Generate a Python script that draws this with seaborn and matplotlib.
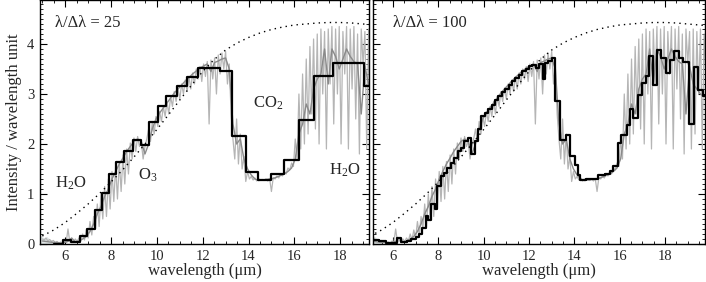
import numpy as np
import pandas as pd
import matplotlib
matplotlib.use("Agg")
import matplotlib.pyplot as plt
import seaborn as sns
from matplotlib.ticker import MultipleLocator

# dotted blackbody envelope
bb_wl = [5.0, 5.5, 6.0, 6.5, 7.0, 7.5, 8.0, 8.5, 9.0, 9.5, 10.0, 10.5, 11.0, 11.5, 12.0,
         12.5, 13.0, 13.5, 14.0, 14.5, 15.0, 15.5, 16.0, 16.5, 17.0, 17.5, 18.0, 18.5,
         19.0, 19.5, 20.0]
bb_val = [0.16, 0.28, 0.43, 0.61, 0.80, 1.01, 1.24, 1.48, 1.74, 2.01, 2.29, 2.58, 2.88,
          3.17, 3.45, 3.69, 3.88, 4.02, 4.13, 4.22, 4.29, 4.34, 4.38, 4.40, 4.42, 4.43,
          4.43, 4.42, 4.40, 4.38, 4.36]

# high resolution spectrum, sampled every 0.08 micron from 5.0
hires_start, hires_step = 5.0, 0.08
hires_light = [
    0.10, 0.08, 0.12, 0.06, 0.09, 0.05, 0.07, 0.03, 0.05, 0.02,
    0.04, 0.02, 0.06, 0.03, 0.30, 0.04, 0.08, 0.03, 0.10, 0.05,
    0.12, 0.06, 0.20, 0.08, 0.28, 0.12, 0.45, 0.18, 0.55, 0.30,
    0.80, 0.35, 1.00, 0.50, 1.15, 0.55, 1.30, 0.70, 1.45, 0.85,
    1.55, 0.90, 1.65, 1.05, 1.78, 1.20, 1.90, 1.40, 2.02, 1.70,
    2.12, 1.85, 2.15, 1.95, 2.05, 1.70, 1.95, 2.10, 2.30, 2.05,
    2.45, 2.20, 2.55, 2.35, 2.65, 2.45, 2.75, 2.55, 2.85, 2.60,
    2.95, 2.75, 3.05, 2.85, 3.12, 2.90, 3.20, 3.00, 3.28, 3.05,
    3.35, 3.10, 3.42, 3.20, 3.50, 3.30, 3.55, 3.25, 3.60, 3.35,
    3.65, 2.40, 3.68, 3.30, 3.72, 3.00, 3.78, 3.40, 3.82, 3.50,
    3.85, 3.20, 3.60, 2.60, 2.10, 1.70, 2.50, 1.60, 2.20, 1.50,
    1.75, 1.25, 1.45, 1.30, 1.35, 1.28, 1.32, 1.26, 1.30, 1.28,
    1.29, 1.27, 1.30, 1.26, 1.31, 1.05, 1.33, 1.30, 1.36, 1.32,
    1.40, 1.36, 1.45, 1.40, 1.52, 1.48, 1.62, 1.55, 2.10, 1.70,
    3.00, 1.90, 3.40, 2.00, 3.70, 2.20, 3.95, 2.60, 4.10, 2.30,
    4.20, 2.00, 4.30, 3.00, 4.25, 1.90, 4.30, 3.20, 4.35, 2.40,
    4.30, 3.00, 4.35, 2.00, 4.25, 3.40, 4.35, 1.90, 4.30, 3.10,
    4.35, 2.50, 4.20, 1.80, 4.30, 3.60, 4.25, 1.90, 4.30, 2.20,
    4.25, 3.00, 4.30, 1.90, 4.20, 3.40,
]

# medium resolution spectrum, every 0.16 micron from 5.0
medres_start, medres_step = 5.0, 0.16
medres_dark = [
    0.06, 0.05, 0.04, 0.03, 0.03, 0.02, 0.03, 0.05, 0.12, 0.04,
    0.06, 0.10, 0.15, 0.25, 0.40, 0.60, 0.75, 0.95, 1.10, 1.30,
    1.45, 1.60, 1.72, 1.85, 1.95, 2.05, 2.10, 2.05, 1.80, 2.00,
    2.30, 2.50, 2.62, 2.72, 2.82, 2.92, 3.02, 3.10, 3.18, 3.26,
    3.33, 3.40, 3.46, 3.52, 3.56, 3.60, 3.45, 3.63, 3.66, 3.70,
    3.72, 3.50, 2.40, 2.00, 2.10, 1.70, 1.50, 1.38, 1.30, 1.27,
    1.28, 1.29, 1.30, 1.31, 1.34, 1.37, 1.40, 1.45, 1.52, 1.70,
    2.20, 2.40, 2.80, 2.60, 3.10, 3.30, 3.40, 3.90, 3.20, 3.90,
    3.75, 3.50, 3.70, 3.90, 3.75, 3.65, 3.60, 2.60, 3.55, 3.20,
    3.10, 3.00, 2.95,
]

# pale patch at the short-wavelength end
pale_wl = [4.9, 5.0, 5.1, 5.2, 5.3, 5.4, 5.5]
pale_val = [0.17, 0.14, 0.12, 0.15, 0.10, 0.08, 0.04]

# binned spectrum, R = 25
edges25 = [5.52, 5.90, 6.25, 6.65, 6.97, 7.28, 7.59, 7.91, 8.23, 8.57, 8.94, 9.29, 9.67,
           10.06, 10.42, 10.86, 11.32, 11.80, 12.74, 13.28, 13.90, 14.41, 14.99, 15.57,
           16.22, 16.87, 17.67, 19.04, 19.30]
vals25 = [0.00, 0.07, 0.04, 0.15, 0.30, 0.68, 1.01, 1.40, 1.63, 1.86, 2.08, 1.98, 2.44,
          2.75, 2.96, 3.16, 3.33, 3.51, 3.46, 2.15, 1.43, 1.28, 1.39, 1.68, 2.47, 3.36,
          3.61, 3.16]

# binned spectrum, R = 100
edges100 = [5.13, 5.4, 5.7, 6.0, 6.2, 6.35, 6.6, 6.8, 7.0, 7.15,
            7.3, 7.45, 7.55, 7.7, 7.85, 7.95, 8.1, 8.25, 8.4, 8.55,
            8.7, 8.85, 9.0, 9.15, 9.3, 9.45, 9.6, 9.75, 9.9, 10.05,
            10.2, 10.35, 10.5, 10.65, 10.8, 10.95, 11.1, 11.25, 11.4, 11.55,
            11.7, 11.85, 12.0, 12.15, 12.3, 12.45, 12.6, 12.7, 12.85, 13.0,
            13.15, 13.36, 13.65, 13.80, 14.02, 14.16, 14.24, 14.53, 15.05, 15.34,
            15.56, 15.71, 15.93, 16.07, 16.30, 16.44, 16.59, 16.81, 16.96, 17.15,
            17.29, 17.47, 17.64, 17.84, 18.03, 18.20, 18.39, 18.60, 18.79, 19.05,
            19.27, 19.47, 19.67, 19.80]
vals100 = [0.08, 0.05, 0.02, 0.02, 0.12, 0.04, 0.05, 0.09, 0.14, 0.20,
           0.32, 0.55, 0.48, 0.80, 0.70, 1.15, 1.35, 1.42, 1.52, 1.62,
           1.72, 1.85, 1.92, 2.05, 2.12, 1.80, 2.05, 2.30, 2.55, 2.62,
           2.70, 2.78, 2.88, 2.95, 3.03, 3.10, 3.18, 3.25, 3.32, 3.38,
           3.45, 3.50, 3.55, 3.58, 3.52, 3.60, 3.30, 3.62, 3.66, 3.72,
           2.85, 2.08, 2.18, 1.75, 1.58, 1.38, 1.28, 1.30, 1.38, 1.40,
           1.45, 1.55, 2.01, 2.18, 2.38, 2.69, 2.51, 2.98, 3.21, 3.35,
           3.76, 3.18, 3.88, 3.71, 3.41, 3.68, 3.85, 3.71, 3.63, 2.40,
           3.53, 3.07, 2.95]

labels25 = [("H$_2$O", 5.57, 1.22), ("O$_3$", 9.17, 1.38),
            ("CO$_2$", 14.2, 2.82), ("H$_2$O", 17.52, 1.48)]

sns.set_theme(style="ticks")
plt.rcParams["font.family"] = ["Liberation Serif", "DejaVu Serif"]
plt.rcParams["mathtext.fontset"] = "custom"
plt.rcParams["mathtext.rm"] = "Liberation Serif"
plt.rcParams["mathtext.it"] = "Liberation Serif:italic"

light = pd.DataFrame({"wl": hires_start + hires_step * np.arange(len(hires_light)),
                      "I": hires_light})
dark = pd.DataFrame({"wl": medres_start + medres_step * np.arange(len(medres_dark)),
                     "I": medres_dark})
bb = pd.DataFrame({"wl": bb_wl, "I": bb_val})


def step_frame(edges, vals):
    return pd.DataFrame({"wl": edges, "I": list(vals) + [vals[-1]]})


fig = plt.figure(figsize=(7.06, 2.82), dpi=100)
ax1 = fig.add_axes([0.0567, 0.1348, 0.466, 0.8652])
ax2 = fig.add_axes([0.5283, 0.1348, 0.4703, 0.8652])

panels = [(ax1, step_frame(edges25, vals25), (4.9, 19.26), "λ/Δλ = 25", 0.045),
          (ax2, step_frame(edges100, vals100), (5.12, 19.76), "λ/Δλ = 100", 0.06)]

for ax, steps, xlim, title, tx in panels:
    ax.fill_between(pale_wl, 0, pale_val, color="#dfe5e5", lw=0)
    sns.lineplot(data=light, x="wl", y="I", ax=ax, color="#b5b5b5", lw=0.9,
                 estimator=None, sort=False)
    sns.lineplot(data=dark, x="wl", y="I", ax=ax, color="#8a8a8a", lw=1.0,
                 estimator=None, sort=False)
    sns.lineplot(data=bb, x="wl", y="I", ax=ax, color="black", lw=1.0,
                 linestyle=(0, (1, 3)), estimator=None, sort=False)
    sns.lineplot(data=steps, x="wl", y="I", ax=ax, color="black", lw=1.6,
                 drawstyle="steps-post", estimator=None, sort=False)
    ax.set_xlim(*xlim)
    ax.set_ylim(0, 4.88)
    ax.xaxis.set_major_locator(MultipleLocator(2))
    ax.xaxis.set_minor_locator(MultipleLocator(0.5))
    ax.yaxis.set_major_locator(MultipleLocator(1))
    ax.yaxis.set_minor_locator(MultipleLocator(0.1))
    ax.tick_params(which="both", direction="in", top=True, right=True,
                   labelsize=10.5, color="black", pad=4)
    ax.tick_params(which="major", length=5, width=0.8)
    ax.tick_params(which="minor", length=2.5, width=0.6)
    for sp in ax.spines.values():
        sp.set_linewidth(1.0)
        sp.set_color("black")
    ax.set_xlabel("wavelength (μm)", fontsize=12, labelpad=0)
    ax.text(tx, 0.905, title, transform=ax.transAxes, fontsize=12,
            ha="left", va="center")

ax1.set_ylabel("Intensity / wavelength unit", fontsize=12, labelpad=4)
ax2.set_ylabel("")
ax2.tick_params(labelleft=False)

for txt, x, y in labels25:
    ax1.text(x, y, txt, fontsize=12, ha="left", va="center")

fig.savefig("out.png", dpi=100)
